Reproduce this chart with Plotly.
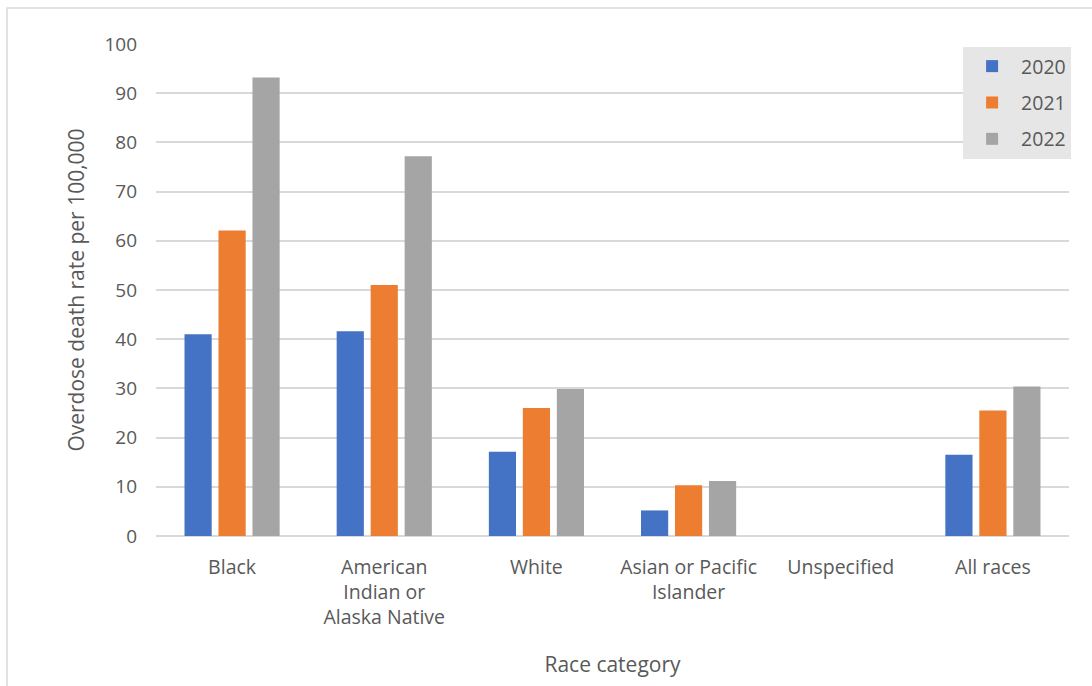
import plotly.graph_objects as go

categories = ["Black", "American<br>Indian or<br>Alaska Native", "White",
              "Asian or Pacific<br>Islander", "Unspecified", "All races"]
rate_2020 = [41.0, 41.6, 17.1, 5.2, None, 16.5]
rate_2021 = [62.1, 51.0, 26.0, 10.3, None, 25.5]
rate_2022 = [93.2, 77.2, 29.9, 11.2, None, 30.4]
years = ["2020", "2021", "2022"]
colors = ["#4472C4", "#ED7D31", "#A5A5A5"]

FONT = "Open Sans"
TXT = "#595959"

fig = go.Figure()
for name, vals, col in zip(years, [rate_2020, rate_2021, rate_2022], colors):
    fig.add_trace(go.Bar(x=categories, y=vals, name=name, marker_color=col,
                         marker_line_width=0, legendgroup=name))

fig.update_layout(
    width=1092, height=686,
    margin=dict(l=156, r=23, t=44, b=150),
    paper_bgcolor="white", plot_bgcolor="white",
    font=dict(family=FONT, color=TXT, size=19),
    barmode="group", bargap=0.33, bargroupgap=0.2,
    legend=dict(x=0.884, y=0.994, xanchor="left", yanchor="top",
                bgcolor="#E6E6E6", font=dict(size=19.5, color=TXT),
                traceorder="grouped", tracegroupgap=8, itemwidth=48),
    xaxis=dict(title=dict(text="Race category", font=dict(size=21), standoff=28),
               tickfont=dict(size=19.5), showgrid=False, ticks="",
               showline=False, ticklabelstandoff=17),
    yaxis=dict(title=dict(text="Overdose death rate per 100,000", font=dict(size=21),
                          standoff=14),
               range=[0, 100], dtick=10, tickfont=dict(size=19),
               showgrid=True, gridcolor="#D9D9D9", gridwidth=1.5,
               zeroline=True, zerolinecolor="#D9D9D9", zerolinewidth=1.5,
               ticklabelstandoff=18),
    shapes=[dict(type="rect", xref="paper", yref="paper",
                 x0=-0.1632, x1=1.05, y0=-0.5, y1=1.0732,
                 line=dict(color="#D9D9D9", width=1.5), fillcolor="rgba(0,0,0,0)",
                 layer="below")],
)

fig.write_html("out.html")
